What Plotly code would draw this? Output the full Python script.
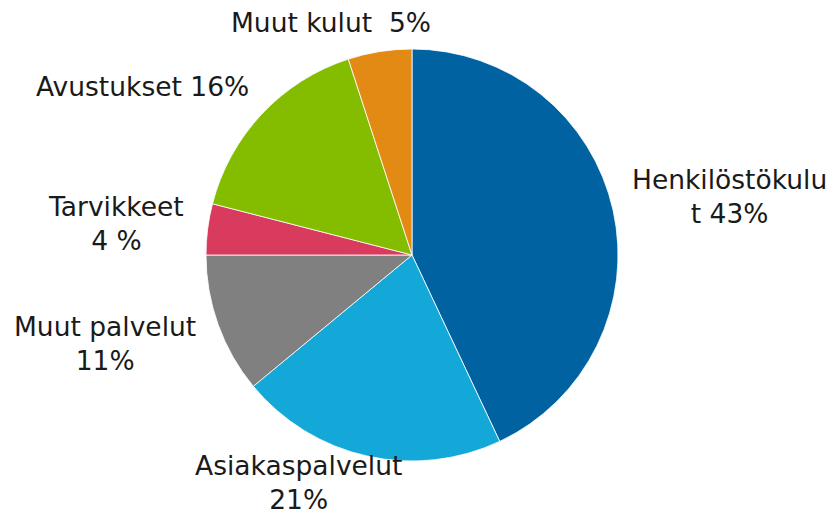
import plotly.graph_objects as go

categories = ["Henkilöstökulut", "Asiakaspalvelut", "Muut palvelut", "Tarvikkeet", "Avustukset", "Muut kulut"]
values = [43, 21, 11, 4, 16, 5]
label_texts = ["Henkilöstökulu<br>t 43%", "Asiakaspalvelut<br>21%", "Muut palvelut<br>11%",
               "Tarvikkeet<br>4 %", "Avustukset 16%", "Muut kulut\u00a0\u00a05%"]
colors = ["#0062A0", "#14A8D8", "#808080", "#D93B5F", "#84BC00", "#E38A14"]

W, H = 836, 514
OFF = 8  # page body margin offset
cx, cy, r = 412 - OFF, 255 - OFF, 206

fig = go.Figure(go.Pie(
    labels=categories, values=values, sort=False, direction="clockwise", rotation=0,
    marker=dict(colors=colors, line=dict(color="white", width=0.8)),
    textinfo="none", hoverinfo="label+percent", showlegend=False,
    domain=dict(x=[(cx - r) / W, (cx + r) / W], y=[1 - (cy + r) / H, 1 - (cy - r) / H]),
))

# label centres in (screen) pixels
label_pos = [(729, 196), (298, 482), (105, 343), (116, 223), (142, 86), (331, 22)]
for txt, (px, py) in zip(label_texts, label_pos):
    fig.add_annotation(x=(px - OFF) / W, y=1 - (py - OFF) / H, xref="paper", yref="paper", text=txt,
                       showarrow=False, xanchor="center", yanchor="middle", align="center",
                       font=dict(family="DejaVu Sans", size=26.5, color="#1a1a1a"))

fig.update_layout(width=W, height=H, margin=dict(l=0, r=0, t=0, b=0),
                  paper_bgcolor="white", plot_bgcolor="white")
fig.write_html("out.html")
